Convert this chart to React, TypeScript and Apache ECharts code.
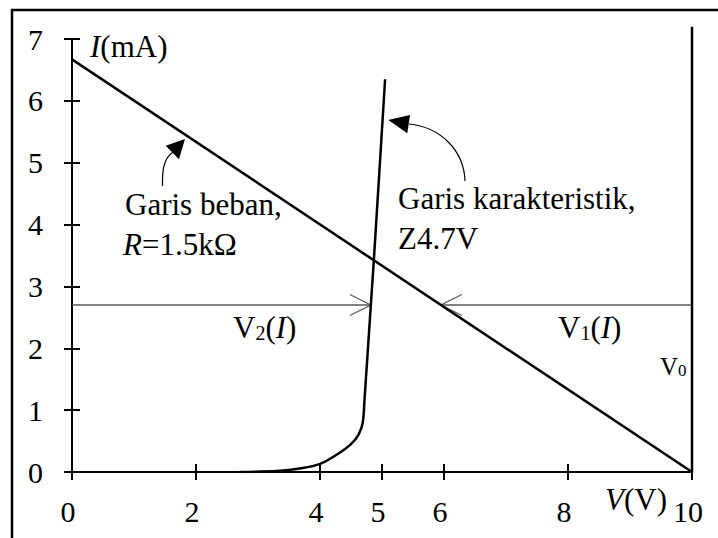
import React, { useEffect, useRef } from 'react';
import * as echarts from 'echarts';

// Load line of the resistor: I = (V0 - V) / R, V0 = 10 V, R = 1.5 kΩ
const loadV = [0, 10];
const loadI = [6.67, 0];

// Zener diode characteristic (Z4.7V)
const zenerV = [2.7, 3.3, 3.7, 4.0, 4.3, 4.5, 4.62, 4.69, 4.72, 4.82, 4.87, 5.05];
const zenerI = [0, 0.015, 0.06, 0.13, 0.3, 0.45, 0.6, 0.8, 1.2, 2.7, 3.45, 6.35];

// Supply voltage marker V0
const supplyV = [10, 10];
const supplyI = [0, 7.2];

// Operating current and the two voltages read at that current
const operatingI = 2.7;
const v2AtI = 4.82; // on the zener curve
const v1AtI = 5.95; // on the load line
const v0 = 10;

const xTicks = [0, 2, 4, 5, 6, 8, 10];
const yTicks = [0, 1, 2, 3, 4, 5, 6, 7];

const serif = 'Liberation Serif';

const zip = (xs: number[], ys: number[]) => xs.map((x, i) => [x, ys[i]]);

export default function App() {
  const ref = useRef<HTMLDivElement>(null);

  useEffect(() => {
    if (!ref.current) return;
    const chart = echarts.init(ref.current, null, { renderer: 'svg' });

    const tickStyle = { color: '#000', width: 2 };
    const textBase = { fontFamily: serif, fill: '#000' };
    const rich = (size: number, sub: number) => ({
      n: { fontFamily: serif, fontSize: size, fill: '#000', color: '#000' },
      i: { fontFamily: serif, fontSize: size, fontStyle: 'italic', fill: '#000', color: '#000' },
      s: { fontFamily: serif, fontSize: sub, fill: '#000', color: '#000', verticalAlign: 'bottom' },
    });

    const option: any = {
      animation: false,
      backgroundColor: '#fff',
      textStyle: { fontFamily: serif },
      grid: { left: 72, right: 26, top: 39, bottom: 66, outerBoundsMode: 'none' },
      xAxis: [
        {
          type: 'value', min: 0, max: 10, position: 'bottom',
          axisLine: { show: true, onZero: false, lineStyle: { color: '#000', width: 2 } },
          axisTick: { show: true, length: 8, lineStyle: tickStyle, customValues: xTicks },
          axisLabel: {
            customValues: xTicks, color: '#000', fontSize: 30, fontFamily: serif,
            margin: 24, padding: [0, 8, 0, 0],
          },
          splitLine: { show: false },
        },
        {
          type: 'value', min: 0, max: 10, position: 'bottom',
          axisLine: { show: false },
          axisTick: { show: true, inside: true, length: 8, lineStyle: tickStyle, customValues: xTicks },
          axisLabel: { show: false },
          splitLine: { show: false },
        },
      ],
      yAxis: [
        {
          type: 'value', min: 0, max: 7, interval: 1, position: 'left',
          axisLine: { show: true, onZero: false, lineStyle: { color: '#000', width: 2 } },
          axisTick: { show: true, length: 8, lineStyle: tickStyle, customValues: yTicks },
          axisLabel: { customValues: yTicks, color: '#000', fontSize: 30, fontFamily: serif, margin: 29 },
          splitLine: { show: false },
        },
        {
          type: 'value', min: 0, max: 7, interval: 1, position: 'left',
          axisLine: { show: false },
          axisTick: { show: true, inside: true, length: 8, lineStyle: tickStyle, customValues: yTicks },
          axisLabel: { show: false },
          splitLine: { show: false },
        },
      ],
      series: [
        {
          name: 'Garis beban', type: 'line', data: zip(loadV, loadI),
          showSymbol: false, lineStyle: { color: '#000', width: 2.5 },
        },
        {
          name: 'Garis karakteristik', type: 'line', data: zip(zenerV, zenerI),
          showSymbol: false, smooth: 0.25, lineStyle: { color: '#000', width: 2.5 },
        },
        {
          name: 'V0', type: 'line', data: zip(supplyV, supplyI), clip: false,
          showSymbol: false, lineStyle: { color: '#000', width: 2.5 },
        },
        {
          name: 'V(I)', type: 'custom', clip: false,
          encode: { x: [0, 1], y: 2 },
          data: [
            [0, v2AtI, operatingI],
            [v0, v1AtI, operatingI],
          ],
          renderItem: (_params: any, api: any) => {
            const start = api.coord([api.value(0), api.value(2)]);
            const end = api.coord([api.value(1), api.value(2)]);
            const dir = end[0] > start[0] ? 1 : -1;
            const style = { stroke: '#5a5a5a', lineWidth: 1.3, fill: 'none' };
            return {
              type: 'group',
              children: [
                { type: 'line', shape: { x1: start[0], y1: start[1], x2: end[0], y2: end[1] }, style },
                {
                  type: 'polyline',
                  shape: {
                    points: [
                      [end[0] - dir * 21, end[1] - 10.5],
                      [end[0], end[1]],
                      [end[0] - dir * 21, end[1] + 10.5],
                    ],
                  },
                  style,
                },
              ],
            };
          },
        },
      ],
      graphic: [
        // outer frame
        {
          type: 'rect', shape: { x: 12, y: 10, width: 760, height: 600 },
          style: { fill: 'none', stroke: '#000', lineWidth: 2.5 }, silent: true,
        },
        // pointer to the load line
        {
          type: 'bezierCurve',
          shape: { x1: 162.5, y1: 186, cpx1: 162, cpy1: 166, cpx2: 165, cpy2: 158, x2: 173, y2: 152 },
          style: { stroke: '#000', lineWidth: 1.2, fill: 'none' },
        },
        {
          type: 'polygon',
          shape: { points: [[185, 139], [165.7, 145.7], [179, 159.3]] },
          style: { fill: '#000' },
        },
        // pointer to the zener characteristic
        {
          type: 'bezierCurve',
          shape: { x1: 465, y1: 181, cpx1: 464, cpy1: 150, cpx2: 440, cpy2: 127, x2: 409, y2: 124 },
          style: { stroke: '#000', lineWidth: 1.2, fill: 'none' },
        },
        {
          type: 'polygon',
          shape: { points: [[388.3, 120], [410, 115], [407.3, 133.3]] },
          style: { fill: '#000' },
        },
        // axis titles
        {
          type: 'text', x: 90, y: 46,
          style: { ...textBase, text: '{i|I}{n|(mA)}', fontSize: 31, verticalAlign: 'middle', rich: rich(31, 20) },
        },
        {
          type: 'text', x: 605, y: 499,
          style: { ...textBase, text: '{i|V}{n|(V)}', fontSize: 31, verticalAlign: 'middle', rich: rich(31, 20) },
        },
        // curve captions
        {
          type: 'text', x: 125, y: 204,
          style: { ...textBase, text: 'Garis beban,', fontSize: 31, verticalAlign: 'middle' },
        },
        {
          type: 'text', x: 123, y: 244,
          style: { ...textBase, text: '{i|R}{n|=1.5kΩ}', fontSize: 31, verticalAlign: 'middle', rich: rich(31, 20) },
        },
        {
          type: 'text', x: 398, y: 198,
          style: { ...textBase, text: 'Garis karakteristik,', fontSize: 31, verticalAlign: 'middle' },
        },
        {
          type: 'text', x: 398, y: 238,
          style: { ...textBase, text: 'Z4.7V', fontSize: 31, verticalAlign: 'middle' },
        },
        // voltage labels
        {
          type: 'text', x: 233, y: 327,
          style: { ...textBase, text: '{n|V}{s|2}{n|(}{i|I}{n|)}', fontSize: 31, verticalAlign: 'middle', rich: rich(31, 20) },
        },
        {
          type: 'text', x: 558, y: 327,
          style: { ...textBase, text: '{n|V}{s|1}{n|(}{i|I}{n|)}', fontSize: 31, verticalAlign: 'middle', rich: rich(31, 20) },
        },
        {
          type: 'text', x: 660, y: 366,
          style: { ...textBase, text: '{n|V}{s|0}', fontSize: 25, verticalAlign: 'middle', rich: rich(25, 17) },
        },
      ],
    };

    chart.setOption(option);
    return () => chart.dispose();
  }, []);

  return (
    <div
      ref={ref}
      style={{ position: 'fixed', left: 0, top: 0, width: 718, height: 538, background: '#fff' }}
    />
  );
}
